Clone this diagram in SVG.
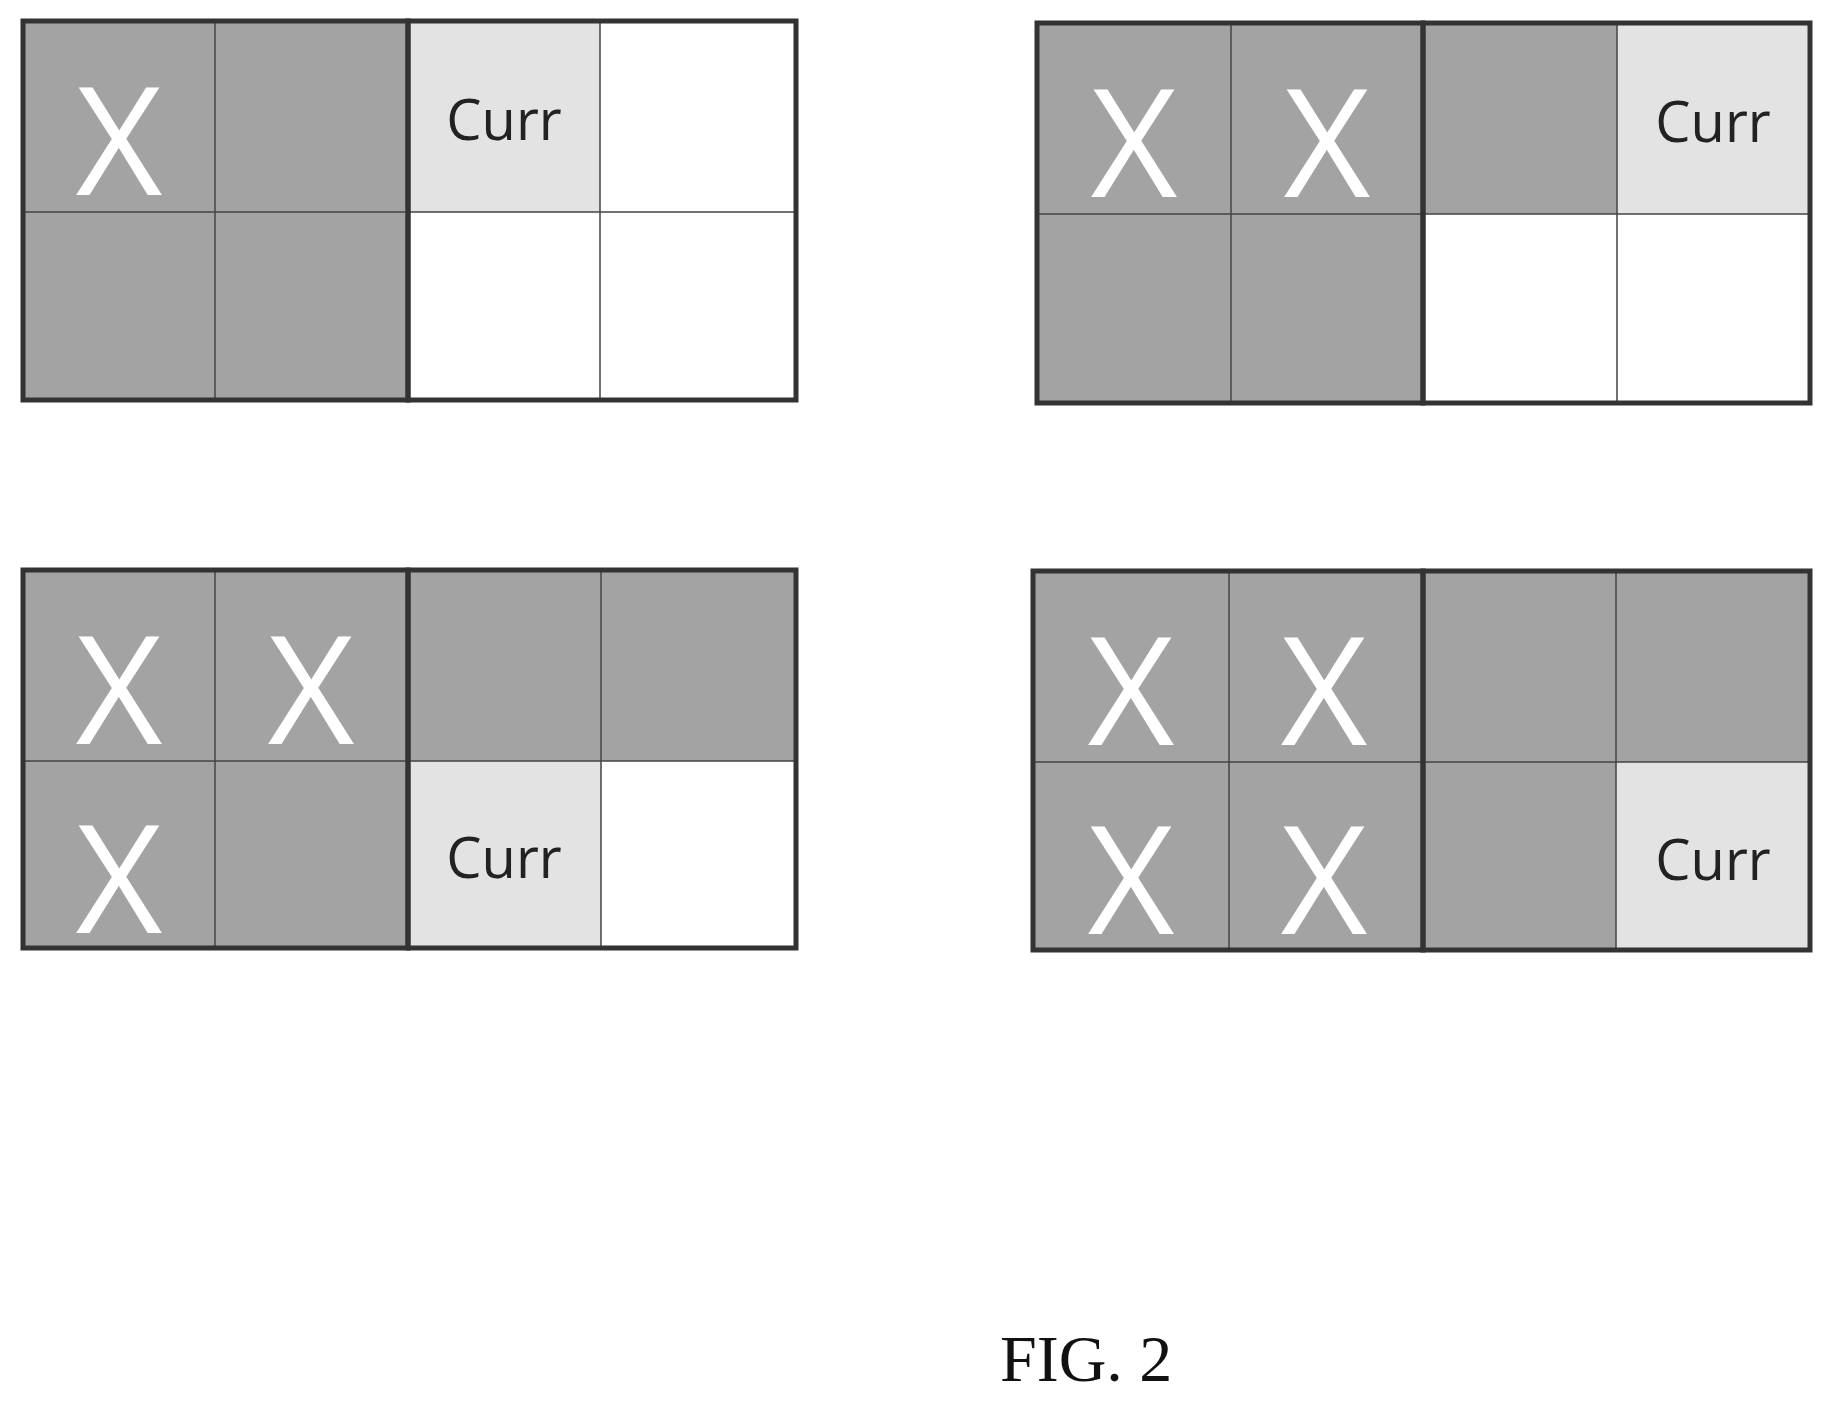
<svg xmlns="http://www.w3.org/2000/svg" width="1835" height="1406" viewBox="0 0 1835 1406">
<style>
.d{fill:#a3a3a3}
.c{fill:#e3e3e3}
.w{fill:#ffffff}
.thin{stroke:#444;stroke-width:1.5;fill:none}
.thick{stroke:#333;stroke-width:5;fill:none}
.x{font-family:"Open Sans","Liberation Sans",sans-serif;font-size:150px;fill:#fff;text-anchor:middle}
.cu{font-family:"Open Sans","Liberation Sans",sans-serif;font-size:56px;fill:#222;text-anchor:middle}
.fig{font-family:"Liberation Serif",serif;font-size:66px;fill:#111}
</style>
<rect width="1835" height="1406" fill="#fff"/>
<g id="panel1">
<rect class="d" x="23" y="21" width="385" height="379"/>
<rect class="c" x="408" y="21" width="192" height="191"/>
<rect class="w" x="600" y="21" width="196" height="191"/>
<rect class="w" x="408" y="212" width="388" height="188"/>
<path class="thin" d="M215 21V400M600 21V400M23 212H796"/>
<rect class="thick" x="23" y="21" width="385" height="379"/>
<rect class="thick" x="408" y="21" width="388" height="379"/>
<text class="x" x="119" y="195">X</text>
<text class="cu" x="504" y="140">Curr</text>
</g>
<g id="panel2">
<rect class="d" x="1037" y="23" width="773" height="191"/>
<rect class="d" x="1037" y="214" width="386" height="189"/>
<rect class="c" x="1617" y="23" width="193" height="191"/>
<rect class="w" x="1423" y="214" width="387" height="189"/>
<path class="thin" d="M1231 23V403M1617 23V403M1037 214H1810"/>
<rect class="thick" x="1037" y="23" width="386" height="380"/>
<rect class="thick" x="1423" y="23" width="387" height="380"/>
<text class="x" x="1134" y="197">X</text>
<text class="x" x="1327" y="197">X</text>
<text class="cu" x="1713" y="142">Curr</text>
</g>
<g id="panel3">
<rect class="d" x="23" y="570" width="773" height="191"/>
<rect class="d" x="23" y="761" width="385" height="187"/>
<rect class="c" x="408" y="761" width="193" height="187"/>
<rect class="w" x="601" y="761" width="195" height="187"/>
<path class="thin" d="M215 570V948M601 570V948M23 761H796"/>
<rect class="thick" x="23" y="570" width="385" height="378"/>
<rect class="thick" x="408" y="570" width="388" height="378"/>
<text class="x" x="119" y="744">X</text>
<text class="x" x="311" y="744">X</text>
<text class="x" x="119" y="933">X</text>
<text class="cu" x="504" y="878">Curr</text>
</g>
<g id="panel4">
<rect class="d" x="1033" y="571" width="777" height="379"/>
<rect class="c" x="1616" y="762" width="194" height="188"/>
<path class="thin" d="M1229 571V950M1616 571V950M1033 762H1810"/>
<rect class="thick" x="1033" y="571" width="390" height="379"/>
<rect class="thick" x="1423" y="571" width="387" height="379"/>
<text class="x" x="1131" y="745">X</text>
<text class="x" x="1324" y="745">X</text>
<text class="x" x="1131" y="934">X</text>
<text class="x" x="1324" y="934">X</text>
<text class="cu" x="1713" y="880">Curr</text>
</g>
<text class="fig" x="1000" y="1381">FIG. 2</text>
</svg>
